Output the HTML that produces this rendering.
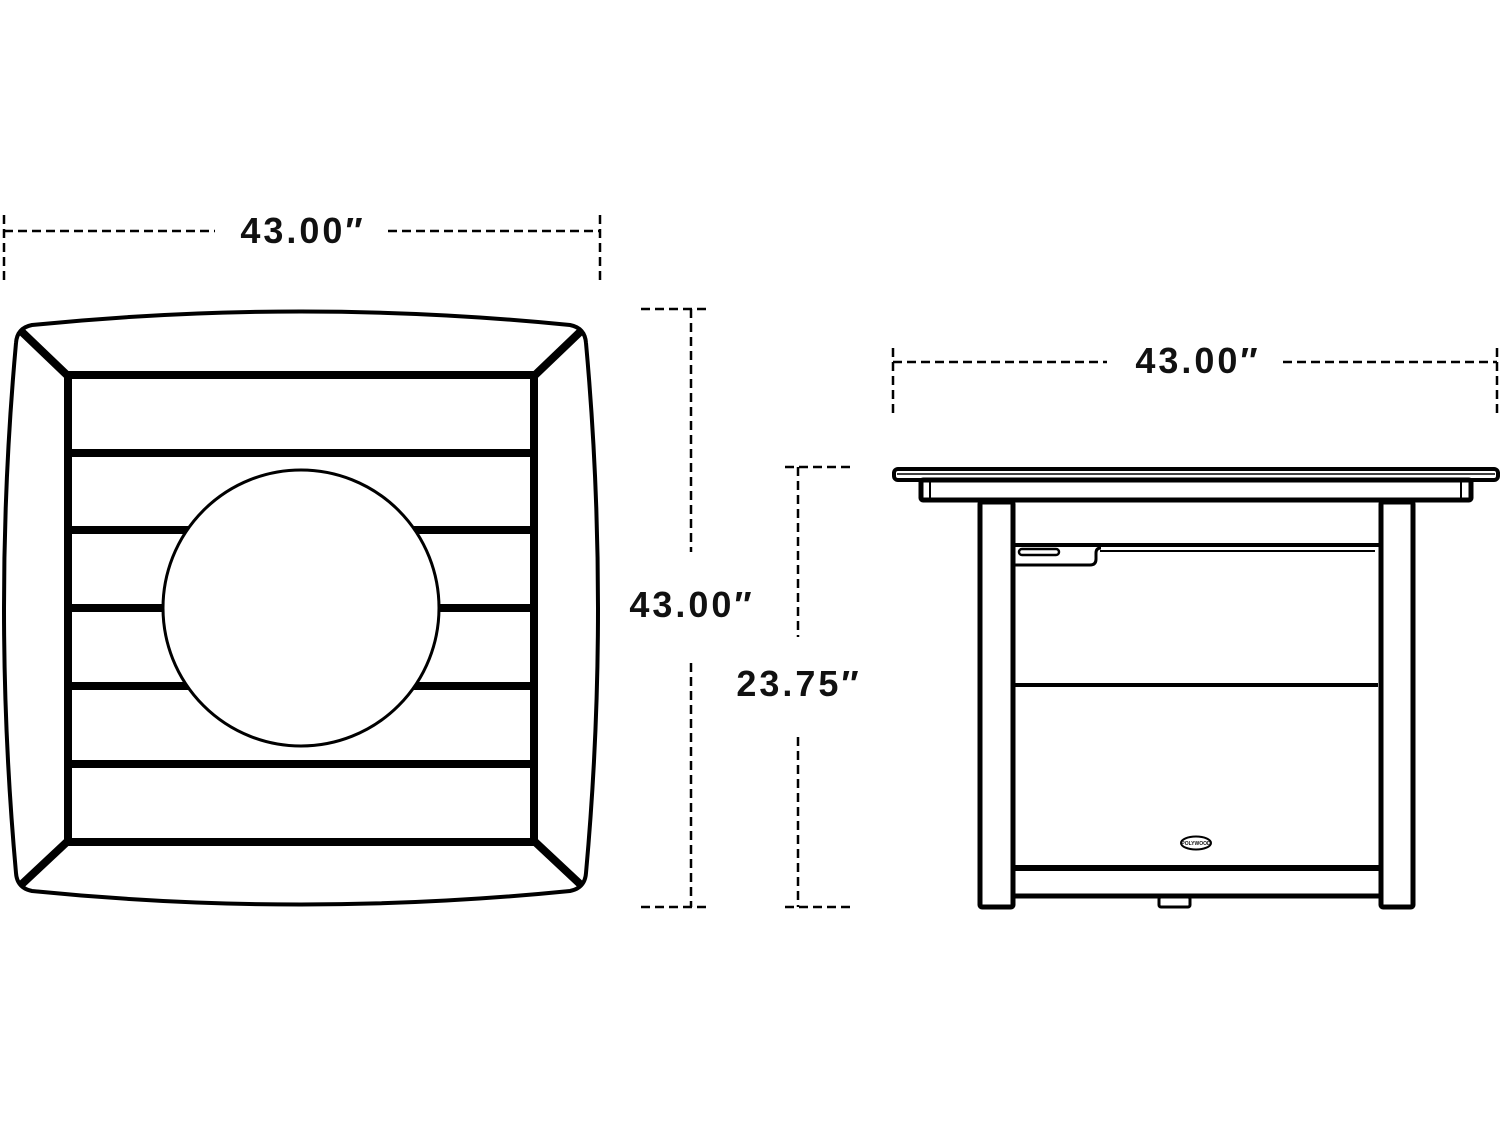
<!DOCTYPE html>
<html><head><meta charset="utf-8"><style>
html,body{margin:0;padding:0;background:#fff;}
svg{display:block;}
text{font-family:"Liberation Sans",sans-serif;font-weight:bold;font-size:36px;fill:#111;letter-spacing:3px;}
</style></head><body>
<svg width="1500" height="1126" viewBox="0 0 1500 1126" xmlns="http://www.w3.org/2000/svg">
<g stroke="#000" fill="none" stroke-width="2.5" stroke-dasharray="9 5">
 <line x1="4" y1="231" x2="215" y2="231"/>
 <line x1="388" y1="231" x2="600" y2="231"/>
 <line x1="4" y1="215" x2="4" y2="281"/>
 <line x1="600" y1="215" x2="600" y2="281"/>
 <line x1="691" y1="309" x2="691" y2="552"/>
 <line x1="691" y1="663" x2="691" y2="907"/>
 <line x1="641" y1="309" x2="706" y2="309"/>
 <line x1="641" y1="907" x2="706" y2="907"/>
 <line x1="893" y1="362" x2="1107" y2="362"/>
 <line x1="1283" y1="362" x2="1497" y2="362"/>
 <line x1="893" y1="348" x2="893" y2="413"/>
 <line x1="1497" y1="348" x2="1497" y2="413"/>
 <line x1="798" y1="467" x2="798" y2="637"/>
 <line x1="798" y1="737" x2="798" y2="907"/>
 <line x1="785" y1="467" x2="850" y2="467"/>
 <line x1="785" y1="907" x2="850" y2="907"/>
</g>
<text x="303" y="243" text-anchor="middle">43.00″</text>
<text x="692" y="617" text-anchor="middle">43.00″</text>
<text x="1198" y="373" text-anchor="middle">43.00″</text>
<text x="799" y="696" text-anchor="middle">23.75″</text>

<path d="M32,325 Q301,298 570,325 Q585,328 586,343 Q610,608 586,873 Q585,888 570,891 Q301,918 32,891 Q17,888 16,873 Q-8,608 16,343 Q17,328 32,325 Z" fill="#fff" stroke="#000" stroke-width="4"/>
<g stroke="#000" stroke-width="8" fill="none">
 <line x1="22" y1="332" x2="69" y2="377"/>
 <line x1="580" y1="332" x2="533" y2="377"/>
 <line x1="22" y1="884" x2="69" y2="840"/>
 <line x1="580" y1="884" x2="533" y2="840"/>
 <rect x="68" y="375" width="466" height="467"/>
 <line x1="68" y1="453" x2="534" y2="453"/>
 <line x1="68" y1="530" x2="534" y2="530"/>
 <line x1="68" y1="608" x2="534" y2="608"/>
 <line x1="68" y1="686" x2="534" y2="686"/>
 <line x1="68" y1="764" x2="534" y2="764"/>
</g>
<circle cx="301" cy="608" r="138" fill="#fff" stroke="#000" stroke-width="3"/>

<g stroke="#000" fill="#fff">
 <rect x="894" y="469" width="604" height="11" rx="4" stroke-width="4"/>
 <line x1="897" y1="474" x2="1495" y2="474" stroke-width="1.5"/>
 <rect x="921" y="480" width="550" height="20" rx="2" stroke-width="5"/>
 <line x1="930" y1="482" x2="930" y2="498" stroke-width="2"/>
 <line x1="1461" y1="482" x2="1461" y2="498" stroke-width="2"/>
 <rect x="980" y="502" width="33" height="405" rx="2" stroke-width="5"/>
 <rect x="1381" y="502" width="32" height="405" rx="2" stroke-width="5"/>
 <line x1="1013" y1="545" x2="1381" y2="545" stroke-width="4"/>
 <line x1="1100" y1="551" x2="1375" y2="551" stroke-width="2"/>
 <path d="M1013,565 L1090,565 Q1096,565 1096,559 L1096,553 Q1096,548 1101,548" fill="none" stroke-width="3"/>
 <rect x="1019" y="549" width="40" height="6" rx="3" stroke-width="2.5"/>
 <line x1="1013" y1="685" x2="1378" y2="685" stroke-width="4"/>
 <line x1="1013" y1="868" x2="1381" y2="868" stroke-width="6"/>
 <line x1="1013" y1="896" x2="1381" y2="896" stroke-width="5"/>
 <rect x="1159" y="897" width="31" height="10" rx="2" stroke-width="3"/>
 <ellipse cx="1196" cy="843" rx="15" ry="6.5" stroke-width="2"/>
</g>
<text x="1196" y="845" text-anchor="middle" style="font-size:5px;letter-spacing:0">POLYWOOD</text>
</svg>
</body></html>
